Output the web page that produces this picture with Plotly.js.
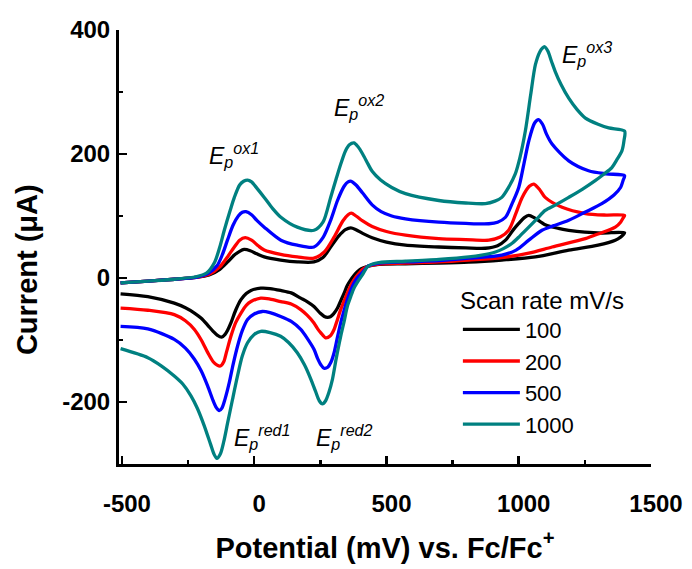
<!DOCTYPE html>
<html>
<head>
<meta charset="utf-8">
<script src="https://cdn.plot.ly/plotly-3.0.1.min.js"></script>
<style>html,body{margin:0;padding:0;background:#fff;}#chart{width:692px;height:569px;}</style>
</head>
<body>
<div id="chart"></div>
<script>
// ---- Data ----
const seriesNames = ['100', '200', '500', '1000'];
const seriesColors = ['#000000', '#ff0000', '#0000ff', '#008080'];

// 100 mV/s : forward (anodic) then reverse (cathodic) scan
const potential100 = [-505,-400,-300,-220,-170,-130,-100,-75,-55,-38,-15,10,38,100,163,226,260,289,320,345,365,385,410,446,500,572,698,800,874,920,950,980,1000,1020,1038,1060,1100,1150,1189,1250,1314,1400,
  1395,1385,1365,1300,1189,1063,936,811,698,572,472,430,405,390,377,365,352,340,327,315,300,288,277,265,250,226,200,176,140,100,60,25,-12,-30,-50,-70,-88,-100,-110,-123,-140,-155,-176,-200,-226,-260,-302,-402,-505];
const current100 = [-8,-5,-2,1,5,14,26,37,43,46,44,39,34,29,26,26,33,50,68,78,81,78,72,65,58,53,50,48.5,48,52,61,78,88,97,101,97,86,80,77,74,72.5,73,
  70,66,61,53,45,34,29,25.5,24,23,22,19,15,10,4,-3,-12,-24.5,-37,-48.5,-58,-62.5,-63.5,-62,-57,-46,-38,-32.5,-24,-20,-17,-16.5,-20,-25,-35,-52,-72.5,-84,-91,-95.5,-92,-86,-76,-65,-56.5,-48,-40.5,-30,-25.5];

// 200 mV/s
const potential200 = [-505,-400,-300,-220,-170,-130,-101,-75,-55,-34,-10,15,38,100,163,226,265,302,335,355,367,385,410,446,500,572,698,800,887,930,962,990,1013,1040,1057,1080,1100,1164,1252,1330,1400,
  1395,1385,1365,1300,1252,1126,1038,936,811,698,572,472,430,410,395,377,365,352,340,327,314,302,288,270,252,240,226,200,176,140,100,60,25,-12,-30,-50,-70,-88,-105,-115,-128,-140,-155,-176,-200,-226,-260,-302,-402,-505];
const current200 = [-8,-5,-2,1,6,18,34,50,61,65,61,52,45,38,34,32,42,66,92,102,104.5,100,92,83,75,69,63.5,62,61,66,77,105,130,148,151.5,142,130,114,104,101.5,101,
  97,90,82,71,63.5,50,40,33,29,26,24,22.5,19,14,7,-3,-12,-24.5,-37,-51,-68,-83,-93,-96.5,-88.5,-82,-72.5,-60,-51,-42,-38,-34,-32.5,-38,-44,-56.5,-72,-94,-120,-135,-142,-140.5,-135,-120,-100,-83,-69,-59,-52,-48.5];

// 500 mV/s
const potential500 = [-505,-400,-300,-220,-175,-140,-120,-101,-80,-60,-45,-31,-10,10,38,101,163,226,260,289,315,340,355,367,385,410,446,480,520,572,698,800,887,920,950,975,1000,1020,1038,1060,1075,1090,1105,1126,1189,1264,1330,1400,
  1395,1385,1360,1314,1250,1189,1130,1088,1038,990,936,811,698,572,472,430,409,393,377,365,352,340,327,314,302,290,278,264,252,240,226,200,176,140,100,60,31,0,-25,-45,-63,-80,-94,-110,-122,-132,-143,-155,-176,-200,-226,-260,-302,-402,-505];
const current500 = [-8,-5,-2,1,7,20,38,61,85,100,106,107,102,93,82,61,53,50,65,93,125,148,155,156,150,137,118,107,100,95.5,90,88,87.5,90,98,120,146,185,221,250,255.5,248,232,216,189,173,168,165,
  158,146,134,120,106,93,84,77,61,45,37,32,28,26,24,19,8.5,2,-8.5,-20,-35,-52,-72.5,-97,-120.5,-136,-144,-145.6,-140,-130,-115,-97,-83,-70,-62,-56,-54,-58,-67,-85,-110,-140,-168.5,-195,-210,-214,-209,-198,-174,-150,-131,-113,-99,-82,-78];

// 1000 mV/s
const potential1000 = [-505,-400,-300,-220,-180,-150,-130,-113,-90,-75,-55,-40,-25,-10,10,38,70,101,163,226,260,289,310,327,345,360,377,392,410,430,446,478,520,572,698,800,874,910,936,960,987,1005,1025,1045,1063,1080,1090,1098,1110,1125,1138,1160,1189,1220,1252,1300,1340,1400,
  1398,1390,1370,1352,1320,1289,1240,1189,1140,1100,1070,1038,1005,975,940,912,860,811,698,572,472,430,409,393,377,365,352,340,327,310,296,282,270,258,246,232,214,190,163,130,100,60,25,0,-25,-45,-63,-82,-101,-115,-128,-141,-152,-165,-189,-215,-239,-270,-302,-350,-402,-505];
const current1000 = [-8,-5,-2,2,8,25,50,77,110,130,150,156,158,155,145,130,112,98,82,77,90,130,160,183.5,205,215,218,212,200,184,172,158,146,136,125,121,120,124,130,145,168,195,237,295,344,365,371,373,366,348,333,312,290,272,258,248,242,237,
  222,205,190,178,167,157,143,130,118,109,96,82,68,56,47,42,37,34,30,27,25,19,5,-5,-16.5,-30,-46,-70,-94,-130,-163,-185,-198,-203,-198,-183,-163,-140,-120.5,-104,-94,-88,-86,-91,-104.5,-126,-158,-196,-235,-264,-284,-291,-284,-268,-238,-210,-190,-171,-158,-142,-128.5,-114];

const xTickVals = [-500, 0, 500, 1000, 1500];
const xTickText = ['-500', '0', '500', '1000', '1500'];
const yTickVals = [-200, 0, 200, 400];
const yTickText = ['-200', '0', '200', '400'];

// peak labels: [x, y, main, sub, sup]
const peakLabels = [
  [-178, 198, 'E', 'p', 'ox1'],
  [293, 276, 'E', 'p', 'ox2'],
  [1156, 362, 'E', 'p', 'ox3'],
  [-84, -256, 'E', 'p', 'red1'],
  [225, -256, 'E', 'p', 'red2']
];

// ---- Build chart ----
const xs = [potential100, potential200, potential500, potential1000];
const ys = [current100, current200, current500, current1000];
const FONT = '"Liberation Sans", Arial, Helvetica, sans-serif';

const traces = seriesNames.map((name, i) => ({
  type: 'scatter', mode: 'lines', name: name,
  x: xs[i], y: ys[i],
  line: {color: seriesColors[i], width: 3.3, shape: 'spline', smoothing: 0.8}
}));

const annotations = peakLabels.map(p => ({
  xref: 'x', yref: 'y', x: p[0], y: p[1],
  xanchor: 'left', yanchor: 'middle', showarrow: false,
  text: '<i>' + p[2] + '<sub>' + p[3] + '</sub><sup>' + p[4] + '</sup></i>',
  font: {family: FONT, size: 23, color: '#000'}
}));

// y-axis title placed as a rotated paper annotation (centred like the reference)
annotations.push({
  xref: 'paper', yref: 'paper', x: -0.173, y: 0.449,
  xanchor: 'center', yanchor: 'middle', showarrow: false, textangle: -90,
  text: '<b>Current (\u03bcA)</b>',
  font: {family: FONT, size: 29, color: '#000'}
});

const XR = [-511, 1500], YR = [-300, 400];

const layout = {
  width: 692, height: 569,
  margin: {l: 119, r: 41, t: 30, b: 105, pad: 0},
  paper_bgcolor: '#fff', plot_bgcolor: '#fff',
  font: {family: FONT, color: '#000'},
  showlegend: true,
  legend: {
    x: 0.637, y: 0.43, xanchor: 'left', yanchor: 'top',
    bgcolor: 'rgba(0,0,0,0)', borderwidth: 0,
    font: {family: FONT, size: 22, color: '#000'},
    title: {text: 'Scan rate mV/s', font: {family: FONT, size: 24, color: '#000'}},
    itemwidth: 57, tracegroupgap: 0
  },
  xaxis: {
    range: XR, showgrid: false, zeroline: false,
    showline: true, linewidth: 3, linecolor: '#000', mirror: false,
    ticks: 'inside', ticklen: 8, tickwidth: 2.5, tickcolor: '#000',
    tickmode: 'array', tickvals: xTickVals, ticktext: xTickText,
    tickfont: {family: FONT, size: 24, weight: 700, color: '#000'},
    ticklabelstandoff: 16, ticklabelshift: 5,
    minor: {ticks: 'inside', ticklen: 4, tickwidth: 2.5, tickcolor: '#000', dtick: 250, tick0: 0, showgrid: false},
    title: {text: 'Potential (mV) vs. Fc/Fc<sup>+</sup>', font: {family: FONT, size: 29, weight: 700, color: '#000'}, standoff: 22}
  },
  xaxis2: {
    overlaying: 'x', anchor: 'y', side: 'top', range: XR,
    showgrid: false, zeroline: false, showline: true, linewidth: 2, linecolor: '#000',
    ticks: 'inside', ticklen: 4, tickwidth: 2, tickcolor: '#000',
    tickmode: 'array', tickvals: xTickVals, showticklabels: false,
    minor: {ticks: 'inside', ticklen: 4, tickwidth: 2, tickcolor: '#000', dtick: 250, tick0: 0, showgrid: false}
  },
  yaxis: {
    range: YR, showgrid: false, zeroline: false,
    showline: true, linewidth: 3, linecolor: '#000', mirror: false,
    ticks: 'inside', ticklen: 8, tickwidth: 2.5, tickcolor: '#000',
    tickmode: 'array', tickvals: yTickVals, ticktext: yTickText,
    tickfont: {family: FONT, size: 24, weight: 700, color: '#000'},
    ticklabelstandoff: 1,
    minor: {ticks: 'inside', ticklen: 4, tickwidth: 2.5, tickcolor: '#000', dtick: 100, tick0: 0, showgrid: false}
  },
  yaxis2: {
    overlaying: 'y', anchor: 'x', side: 'right', range: YR,
    showgrid: false, zeroline: false, showline: true, linewidth: 3, linecolor: '#000',
    ticks: 'inside', ticklen: 4, tickwidth: 2, tickcolor: '#000',
    tickmode: 'array', tickvals: yTickVals, showticklabels: false,
    minor: {ticks: 'inside', ticklen: 4, tickwidth: 2, tickcolor: '#000', dtick: 100, tick0: 0, showgrid: false}
  },
  annotations: annotations
};

Plotly.newPlot('chart', traces, layout, {staticPlot: true, displayModeBar: false});
</script>
</body>
</html>
